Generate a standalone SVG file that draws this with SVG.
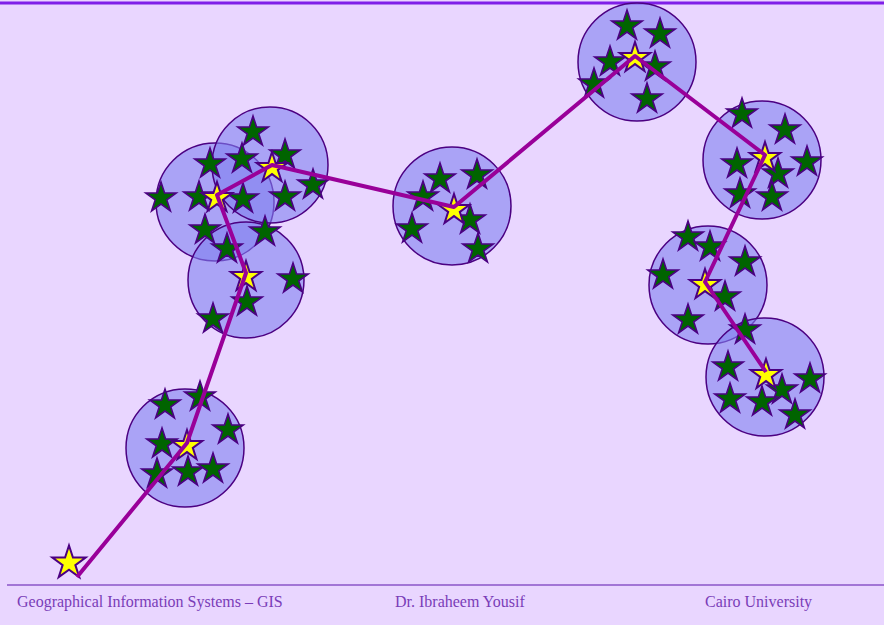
<svg xmlns="http://www.w3.org/2000/svg" xmlns:xlink="http://www.w3.org/1999/xlink" width="884" height="625" viewBox="0 0 884 625">
<style>
.bg{fill:#e9d6ff}
.c{fill:#8080f0;fill-opacity:0.6;stroke:#4b0082;stroke-width:1.5}
.g{fill:#006400;stroke:#4b0082;stroke-width:1.6;stroke-linejoin:miter}
.y{fill:#ffff00;stroke:#4b0082;stroke-width:2}
.route{fill:none;stroke:#990099;stroke-width:4;stroke-linejoin:round;stroke-linecap:butt}
.ft{font-family:"Liberation Serif","Times New Roman",serif;font-size:16px;fill:#7a3db8}
</style>
<defs>
<path id="gs" d="M0,-16 L3.59,-4.94 L15.22,-4.94 L5.81,1.89 L9.4,12.94 L0,6.11 L-9.4,12.94 L-5.81,1.89 L-15.22,-4.94 L-3.59,-4.94Z"/>
<path id="ysl" d="M0,-17.5 L3.93,-5.41 L16.64,-5.41 L6.36,2.07 L10.29,14.16 L0,6.68 L-10.29,14.16 L-6.36,2.07 L-16.64,-5.41 L-3.93,-5.41Z"/>
</defs>
<rect class="bg" x="0" y="0" width="884" height="625"/>
<line x1="0" y1="3" x2="884" y2="3" stroke="#7f1fe8" stroke-width="3"/>
<line x1="7" y1="585" x2="884" y2="585" stroke="#8a55c8" stroke-width="1.5"/>

<g id="circles">
<circle class="c" cx="215" cy="202" r="59"/>
<circle class="c" cx="270" cy="165" r="58"/>
<circle class="c" cx="246" cy="280" r="58"/>
<circle class="c" cx="452" cy="206" r="59"/>
<circle class="c" cx="637" cy="62" r="59"/>
<circle class="c" cx="762" cy="160" r="59"/>
<circle class="c" cx="708" cy="285" r="59"/>
<circle class="c" cx="765" cy="377" r="59"/>
<circle class="c" cx="185" cy="448" r="59"/>
</g>

<g id="cluster-a">
<use xlink:href="#gs" class="g" x="253" y="132"/>
<use xlink:href="#gs" class="g" x="242" y="159"/>
<use xlink:href="#gs" class="g" x="285" y="155"/>
<use xlink:href="#gs" class="g" x="210" y="164"/>
<use xlink:href="#gs" class="g" x="161" y="198"/>
<use xlink:href="#gs" class="g" x="199" y="197"/>
<use xlink:href="#gs" class="g" x="243" y="199"/>
<use xlink:href="#gs" class="g" x="285" y="197"/>
<use xlink:href="#gs" class="g" x="313" y="185"/>
<use xlink:href="#gs" class="g" x="205" y="230"/>
<use xlink:href="#gs" class="g" x="265" y="232"/>
<use xlink:href="#gs" class="g" x="227" y="249"/>
<use xlink:href="#gs" class="g" x="293" y="279"/>
<use xlink:href="#gs" class="g" x="247" y="302"/>
<use xlink:href="#gs" class="g" x="213" y="319"/>
</g>
<g id="cluster-d">
<use xlink:href="#gs" class="g" x="440" y="179"/>
<use xlink:href="#gs" class="g" x="477" y="175"/>
<use xlink:href="#gs" class="g" x="423" y="197"/>
<use xlink:href="#gs" class="g" x="412" y="229"/>
<use xlink:href="#gs" class="g" x="470" y="220"/>
<use xlink:href="#gs" class="g" x="478" y="249"/>
</g>
<g id="cluster-e">
<use xlink:href="#gs" class="g" x="627" y="26"/>
<use xlink:href="#gs" class="g" x="660" y="34"/>
<use xlink:href="#gs" class="g" x="610" y="62"/>
<use xlink:href="#gs" class="g" x="655" y="67"/>
<use xlink:href="#gs" class="g" x="594" y="84"/>
<use xlink:href="#gs" class="g" x="647" y="99"/>
</g>
<g id="cluster-f">
<use xlink:href="#gs" class="g" x="742" y="114"/>
<use xlink:href="#gs" class="g" x="785" y="130"/>
<use xlink:href="#gs" class="g" x="737" y="164"/>
<use xlink:href="#gs" class="g" x="807" y="162"/>
<use xlink:href="#gs" class="g" x="778" y="174"/>
<use xlink:href="#gs" class="g" x="740" y="194"/>
<use xlink:href="#gs" class="g" x="772" y="197"/>
</g>
<g id="cluster-g">
<use xlink:href="#gs" class="g" x="688" y="237"/>
<use xlink:href="#gs" class="g" x="710" y="247"/>
<use xlink:href="#gs" class="g" x="745" y="262"/>
<use xlink:href="#gs" class="g" x="663" y="275"/>
<use xlink:href="#gs" class="g" x="725" y="297"/>
<use xlink:href="#gs" class="g" x="688" y="320"/>
<use xlink:href="#gs" class="g" x="745" y="330"/>
</g>
<g id="cluster-h">
<use xlink:href="#gs" class="g" x="728" y="367"/>
<use xlink:href="#gs" class="g" x="810" y="379"/>
<use xlink:href="#gs" class="g" x="782" y="390"/>
<use xlink:href="#gs" class="g" x="730" y="399"/>
<use xlink:href="#gs" class="g" x="762" y="402"/>
<use xlink:href="#gs" class="g" x="795" y="415"/>
</g>
<g id="cluster-i">
<use xlink:href="#gs" class="g" x="165" y="405"/>
<use xlink:href="#gs" class="g" x="200" y="397"/>
<use xlink:href="#gs" class="g" x="228" y="430"/>
<use xlink:href="#gs" class="g" x="162" y="444"/>
<use xlink:href="#gs" class="g" x="157" y="474"/>
<use xlink:href="#gs" class="g" x="188" y="472"/>
<use xlink:href="#gs" class="g" x="213" y="469"/>
</g>

<g id="centroids">
<use xlink:href="#ysl" class="y" x="69" y="563"/>
<use xlink:href="#gs" class="y" x="187" y="446"/>
<use xlink:href="#gs" class="y" x="246" y="277"/>
<use xlink:href="#gs" class="y" x="217" y="198"/>
<use xlink:href="#gs" class="y" x="272" y="168"/>
<use xlink:href="#gs" class="y" x="454" y="210"/>
<use xlink:href="#gs" class="y" x="635" y="58"/>
<use xlink:href="#gs" class="y" x="765" y="158"/>
<use xlink:href="#gs" class="y" x="705" y="285"/>
<use xlink:href="#gs" class="y" x="766" y="375"/>
</g>

<g id="connectors">
<polyline class="route" points="77,577 187,443 246,273 217,195 272,165 454,207 635,56 765,155 705,282 766,372"/>
</g>

<g id="footer">
<text class="ft" x="17" y="607">Geographical Information Systems – GIS</text>
<text class="ft" x="395" y="607">Dr. Ibraheem Yousif</text>
<text class="ft" x="705" y="607">Cairo University</text>
</g>
</svg>
